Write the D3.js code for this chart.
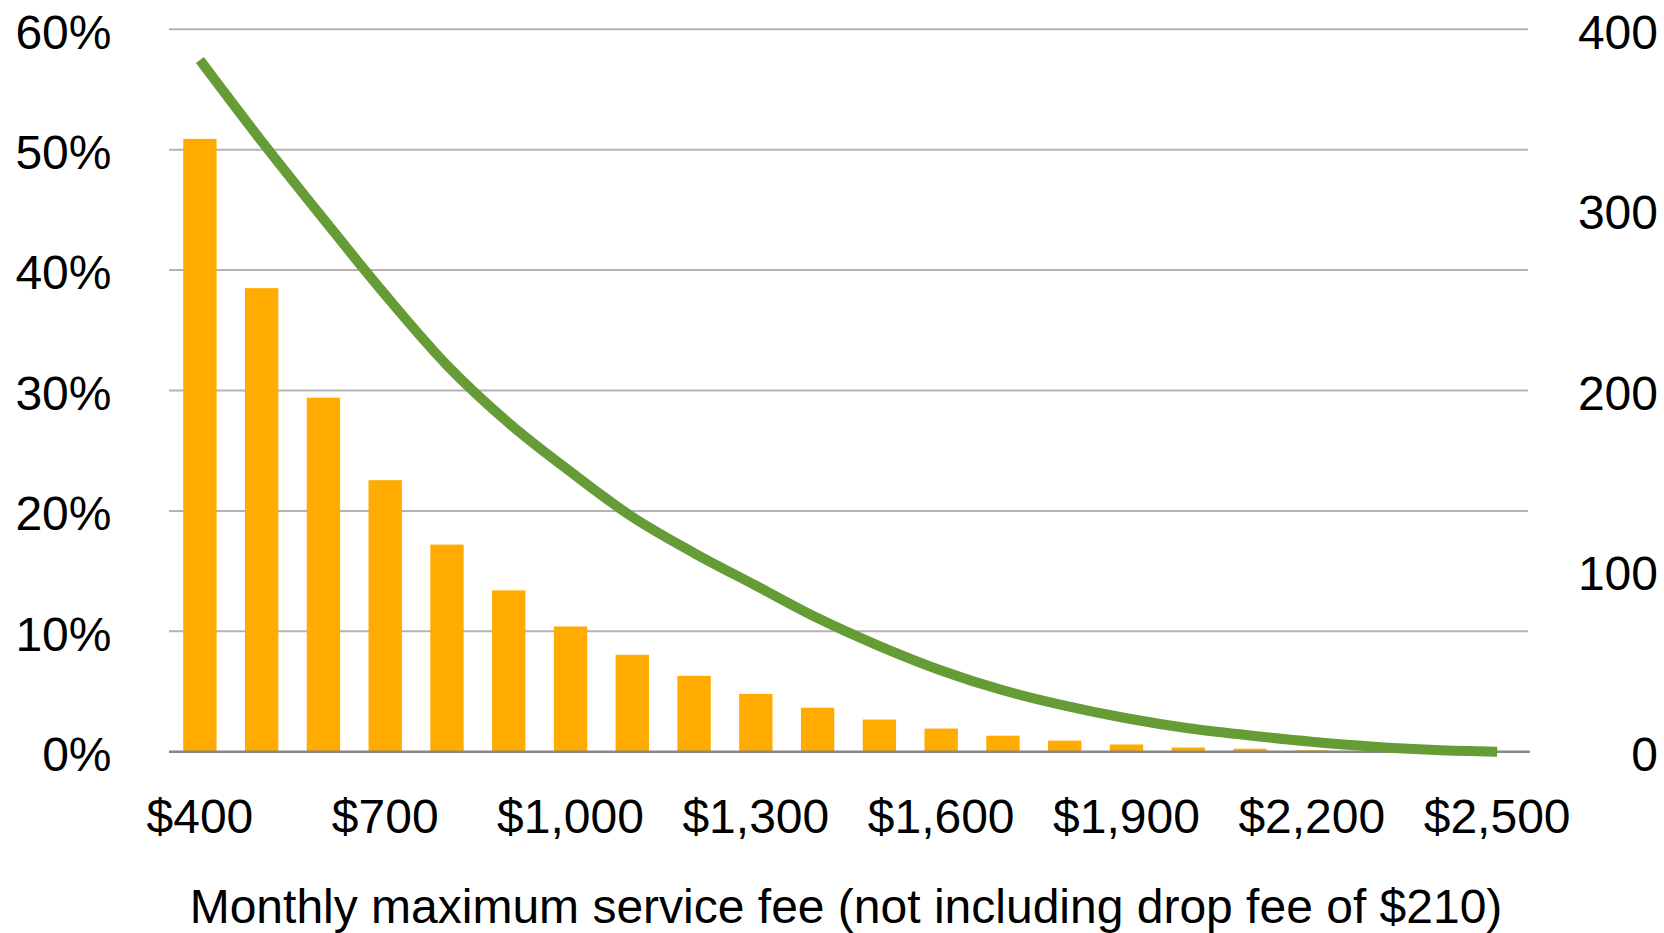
<!DOCTYPE html>
<html>
<head>
<meta charset="utf-8">
<script src="https://cdn.jsdelivr.net/npm/d3@7"></script>
<style>
  html, body { margin: 0; padding: 0; background: #ffffff; }
  svg { display: block; }
  text { font-family: "Liberation Sans", Arial, Helvetica, sans-serif; fill: #000; }
</style>
</head>
<body>
<svg id="chart" width="1664" height="933"></svg>
<script>
// Monthly maximum service fee categories (USD)
const fees = [400, 500, 600, 700, 800, 900, 1000, 1100, 1200, 1300, 1400,
              1500, 1600, 1700, 1800, 1900, 2000, 2100, 2200, 2300, 2400, 2500];

// Bar series, left axis (percent)
const sharePct = [50.9, 38.5, 29.4, 22.55, 17.2, 13.4, 10.4, 8.05, 6.3, 4.8, 3.65,
                  2.67, 1.92, 1.33, 0.92, 0.6, 0.35, 0.25, 0.12, 0.05, 0.02, 0.01];

// Line series, right axis
const lineValues = [383, 338, 295, 253, 214, 182, 155, 130, 110, 92, 74,
                    58.5, 45, 34, 25.5, 18.5, 13, 9, 5.5, 2.8, 1, 0];

// Tick labels
const leftTicks = [0, 10, 20, 30, 40, 50, 60];
const rightTicks = [0, 100, 200, 300, 400];
const xTickFees = [400, 700, 1000, 1300, 1600, 1900, 2200, 2500];
const xTitle = "Monthly maximum service fee (not including drop fee of $210)";

const svg = d3.select("#chart");
const plot = { left: 169, right: 1528, top: 29.3, bottom: 751.7 };

const x = d3.scaleBand()
  .domain(fees)
  .range([plot.left, plot.right])
  .paddingInner(0.46)
  .paddingOuter(0.23);

const yL = d3.scaleLinear().domain([0, 60]).range([plot.bottom, plot.top]);
const yR = d3.scaleLinear().domain([0, 400]).range([plot.bottom, plot.top]);

const fontSize = 48;

// Horizontal gridlines
svg.append("g")
  .selectAll("line")
  .data(leftTicks.filter(d => d > 0))
  .join("line")
  .attr("x1", plot.left).attr("x2", plot.right)
  .attr("y1", d => yL(d)).attr("y2", d => yL(d))
  .attr("stroke", "#b3b3b3")
  .attr("stroke-width", 2);

// Bars
svg.append("g")
  .selectAll("rect")
  .data(fees.map((f, i) => ({ fee: f, v: sharePct[i] })))
  .join("rect")
  .attr("x", d => x(d.fee))
  .attr("width", x.bandwidth())
  .attr("y", d => yL(d.v))
  .attr("height", d => yL(0) - yL(d.v))
  .attr("fill", "#ffab00");

// Baseline
svg.append("line")
  .attr("x1", plot.left).attr("x2", plot.right + 2)
  .attr("y1", yL(0)).attr("y2", yL(0))
  .attr("stroke", "#888888")
  .attr("stroke-width", 2.5);

// Line on right axis
const line = d3.line()
  .x((d, i) => x(fees[i]) + x.bandwidth() / 2)
  .y(d => yR(d))
  .curve(d3.curveMonotoneX);

svg.append("path")
  .datum(lineValues)
  .attr("d", line)
  .attr("fill", "none")
  .attr("stroke", "#669c35")
  .attr("stroke-width", 10)
  .attr("stroke-linecap", "butt")
  .attr("stroke-linejoin", "round");

// Left axis labels
svg.append("g")
  .selectAll("text")
  .data(leftTicks)
  .join("text")
  .attr("x", 111.5)
  .attr("y", d => yL(d))
  .attr("dy", "0.4em")
  .attr("text-anchor", "end")
  .style("font-size", fontSize + "px")
  .text(d => d + "%");

// Right axis labels
svg.append("g")
  .selectAll("text")
  .data(rightTicks)
  .join("text")
  .attr("x", 1658)
  .attr("y", d => yR(d))
  .attr("dy", "0.4em")
  .attr("text-anchor", "end")
  .style("font-size", fontSize + "px")
  .text(d => d);

// Category labels
const fmt = d3.format(",");
svg.append("g")
  .selectAll("text")
  .data(xTickFees)
  .join("text")
  .attr("x", d => x(d) + x.bandwidth() / 2)
  .attr("y", 833)
  .attr("text-anchor", "middle")
  .style("font-size", fontSize + "px")
  .text(d => "$" + fmt(d));

// Axis title
svg.append("text")
  .attr("x", 846)
  .attr("y", 923)
  .attr("text-anchor", "middle")
  .style("font-size", fontSize + "px")
  .text(xTitle);
</script>
</body>
</html>
